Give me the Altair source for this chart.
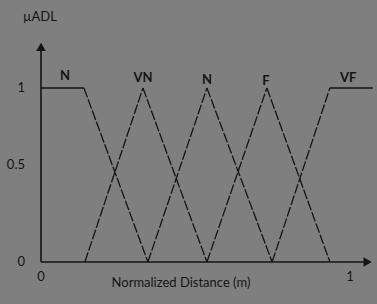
import altair as alt
import pandas as pd

# Membership functions (normalized distance, membership)
near_x = [0.0, 0.139, 0.346]
near_y = [1, 1, 0]
vn_x = [0.142, 0.330, 0.537]
vn_y = [0, 1, 0]
n_x = [0.346, 0.537, 0.748]
n_y = [0, 1, 0]
f_x = [0.537, 0.731, 0.935]
f_y = [0, 1, 0]
vf_x = [0.748, 0.935, 1.074]
vf_y = [0, 1, 1]

set_labels = ["N", "VN", "N", "F", "VF"]
label_x = [0.078, 0.330, 0.537, 0.728, 0.994]
label_y = [1.069, 1.057, 1.046, 1.040, 1.057]

y_ticks = ["1", "0.5", "0"]
y_tick_vals = [1.0, 0.56, 0.0]
x_ticks = ["0", "1"]
x_tick_vals = [0.0, 1.0]

curves = [(near_x, near_y), (vn_x, vn_y), (n_x, n_y), (f_x, f_y), (vf_x, vf_y)]
rows = []
seg = 0
for xs, ys in curves:
    for i in range(len(xs) - 1):
        style = "solid" if ys[i] == ys[i + 1] else "dashed"
        rows.append({"seg": seg, "x": xs[i], "y": ys[i], "style": style})
        rows.append({"seg": seg, "x": xs[i + 1], "y": ys[i + 1], "style": style})
        seg += 1
df = pd.DataFrame(rows)

xs_scale = alt.Scale(domain=[-0.1327, 1.0874], nice=False, zero=False)
ys_scale = alt.Scale(domain=[-0.2414, 1.5057], nice=False, zero=False)
X = lambda f: alt.X(f, scale=xs_scale, axis=None)
Y = lambda f: alt.Y(f, scale=ys_scale, axis=None)

ink = "#141414"

lines = alt.Chart(df).mark_line(color=ink, strokeWidth=1.3).encode(
    x=X("x:Q"), y=Y("y:Q"), detail="seg:N",
    strokeDash=alt.StrokeDash("style:N", scale=alt.Scale(domain=["solid", "dashed"], range=[[1, 0], [10, 2]]), legend=None),
)

axes_df = pd.DataFrame({"x": [0.0, 0.0], "x2": [0.0, 1.05], "y": [0.0, 0.0], "y2": [1.23, 0.0]})
axes = alt.Chart(axes_df).mark_rule(color=ink, strokeWidth=1.6).encode(
    x=X("x:Q"), x2="x2:Q", y=Y("y:Q"), y2="y2:Q")

arrow_up = alt.Chart(pd.DataFrame({"x": [0.0], "y": [1.236]})).mark_point(
    shape="triangle-up", filled=True, color=ink, size=90, opacity=1).encode(x=X("x:Q"), y=Y("y:Q"))
arrow_right = alt.Chart(pd.DataFrame({"x": [1.057], "y": [0.0]})).mark_point(
    shape="triangle-right", filled=True, color=ink, size=90, opacity=1).encode(x=X("x:Q"), y=Y("y:Q"))

font = "Lato"
labels = alt.Chart(pd.DataFrame({"t": set_labels, "x": label_x, "y": label_y})).mark_text(
    font=font, fontSize=13, fontWeight="bold", color=ink).encode(x=X("x:Q"), y=Y("y:Q"), text="t:N")

ytext = alt.Chart(pd.DataFrame({"t": y_ticks, "y": y_tick_vals})).mark_text(
    font=font, fontSize=13, color=ink, align="right").encode(
    x=alt.value(25), y=Y("y:Q"), text="t:N")

xtext = alt.Chart(pd.DataFrame({"t": x_ticks, "x": x_tick_vals})).mark_text(
    font=font, fontSize=13, color=ink).encode(
    x=X("x:Q"), y=alt.value(277), text="t:N")

title_y = alt.Chart(pd.DataFrame({"t": ["µADL"]})).mark_text(
    font=font, fontSize=13, color=ink).encode(x=alt.value(40), y=alt.value(17), text="t:N")
title_x = alt.Chart(pd.DataFrame({"t": ["Normalized Distance (m)"]})).mark_text(
    font=font, fontSize=13, color=ink).encode(x=alt.value(181), y=alt.value(283), text="t:N")

chart = alt.layer(lines, axes, arrow_up, arrow_right, labels, ytext, xtext, title_y, title_x).properties(
    width=377, height=304, autosize=alt.AutoSizeParams(type="none"), padding=0, background="#7f7f7f"
).configure_view(stroke=None)

chart.save("out.html", embed_options={"renderer": "svg", "actions": False})
